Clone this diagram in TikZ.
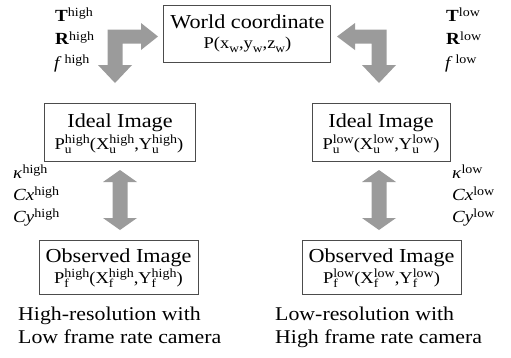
\documentclass[tikz,border=0pt]{standalone}
\usepackage{fontspec}
\setmainfont{Liberation Serif}[FakeStretch=1.12]
\newcommand{\supsub}[2]{\makebox[0pt][l]{\raisebox{-0.3em}{\fontsize{12}{12}\selectfont #2}}\raisebox{0.36em}{\fontsize{12.5}{12.5}\selectfont #1}}
\newcommand{\subw}[1]{\raisebox{-0.25em}{\fontsize{12}{12}\selectfont #1}}
\newcommand{\lsup}[1]{\raisebox{0.25em}{\fontsize{12.5}{12.5}\selectfont #1}}
\tikzset{
  box/.style={draw=black!70, line width=0.8pt, inner sep=0pt},
  ttl/.style={anchor=base, inner sep=0pt, font=\fontsize{19.8}{22}\selectfont},
  sbt/.style={anchor=base, inner sep=0pt, font=\fontsize{16.5}{18}\selectfont},
  lbl/.style={anchor=base west, inner sep=0pt, font=\fontsize{17}{20}\selectfont},
  captxt/.style={anchor=base west, inner sep=0pt, font=\fontsize{19.5}{22}\selectfont},
  bigarrow/.style={fill={rgb,255:red,155;green,155;blue,155}, draw=none}
}
\begin{document}
\begin{tikzpicture}[x=1pt,y=-1pt]
\useasboundingbox (0,0) rectangle (511,357);
% boxes
\node[box, minimum width=167pt, minimum height=57pt] (world) at (246.5,33.5) {};
\node[ttl] (worldt) at (247.5,28) {World coordinate};
\node[sbt] (worlds) at (247.5,48) {P(x\subw{w},y\subw{w},z\subw{w})};

\node[box, minimum width=151pt, minimum height=58pt] (idealL) at (120,132) {};
\node[ttl] (idealLt) at (120,127) {Ideal Image};
\node[sbt] (idealLs) at (119,149) {P\supsub{high}{u}(X\supsub{high}{u},Y\supsub{high}{u})};

\node[box, minimum width=138pt, minimum height=58pt] (idealR) at (381,132) {};
\node[ttl] (idealRt) at (381,127) {Ideal Image};
\node[sbt] (idealRs) at (381,149) {P\supsub{low}{u}(X\supsub{low}{u},Y\supsub{low}{u})};

\node[box, minimum width=159pt, minimum height=54pt] (obsL) at (118.5,267) {};
\node[ttl] (obsLt) at (118.5,262) {Observed Image};
\node[sbt] (obsLs) at (118.5,283) {P\supsub{high}{f}(X\supsub{high}{f},Y\supsub{high}{f})};

\node[box, minimum width=159pt, minimum height=54pt] (obsR) at (381.5,267) {};
\node[ttl] (obsRt) at (381.5,262) {Observed Image};
\node[sbt] (obsRs) at (381.5,283) {P\supsub{low}{f}(X\supsub{low}{f},Y\supsub{low}{f})};

% parameter labels
\node[lbl] (Th) at (55,21) {\textbf{T}\lsup{high}};
\node[lbl] (Rh) at (55,44.5) {\textbf{R}\lsup{high}};
\node[lbl] (fh) at (54,68) {\textit{f}\,\lsup{high}};
\node[lbl] (Tl) at (446,21) {\textbf{T}\lsup{low}};
\node[lbl] (Rl) at (446,44.5) {\textbf{R}\lsup{low}};
\node[lbl] (fl) at (445,68) {\textit{f}\,\lsup{low}};

\node[lbl] (kh) at (13,178) {\textit{κ}\lsup{high}};
\node[lbl] (cxh) at (13,200) {\textit{Cx}\lsup{high}};
\node[lbl] (cyh) at (13,222) {\textit{Cy}\lsup{high}};
\node[lbl] (kl) at (452,178) {\textit{κ}\lsup{low}};
\node[lbl] (cxl) at (452,200) {\textit{Cx}\lsup{low}};
\node[lbl] (cyl) at (452,222) {\textit{Cy}\lsup{low}};

% captions
\node[captxt] (capL1) at (18,320) {High-resolution with};
\node[captxt] (capL2) at (18,343) {Low frame rate camera};
\node[captxt] (capR1) at (275,320) {Low-resolution with};
\node[captxt] (capR2) at (275,343) {High frame rate camera};

% bent arrows
\fill[bigarrow] (107.5,29.5) -- (141,29.5) -- (141,23) -- (158,36.5) -- (141,50) -- (141,43.5)
  -- (122.5,43.5) -- (122.5,65) -- (132,65) -- (115,83) -- (98,65) -- (107.5,65) -- cycle;
\fill[bigarrow] (386.5,29.5) -- (355,29.5) -- (355,23) -- (337,36.5) -- (355,50) -- (355,43.5)
  -- (371.5,43.5) -- (371.5,65) -- (362,65) -- (379,83) -- (396,65) -- (386.5,65) -- cycle;
% double arrows
\fill[bigarrow] (120,170) -- (137,182) -- (127.5,182) -- (127.5,218) -- (137,218) -- (120,230)
  -- (103,218) -- (112.5,218) -- (112.5,182) -- (103,182) -- cycle;
\fill[bigarrow] (379,170) -- (396,182) -- (386.5,182) -- (386.5,218) -- (396,218) -- (379,230)
  -- (362,218) -- (371.5,218) -- (371.5,182) -- (362,182) -- cycle;
\end{tikzpicture}
\end{document}
